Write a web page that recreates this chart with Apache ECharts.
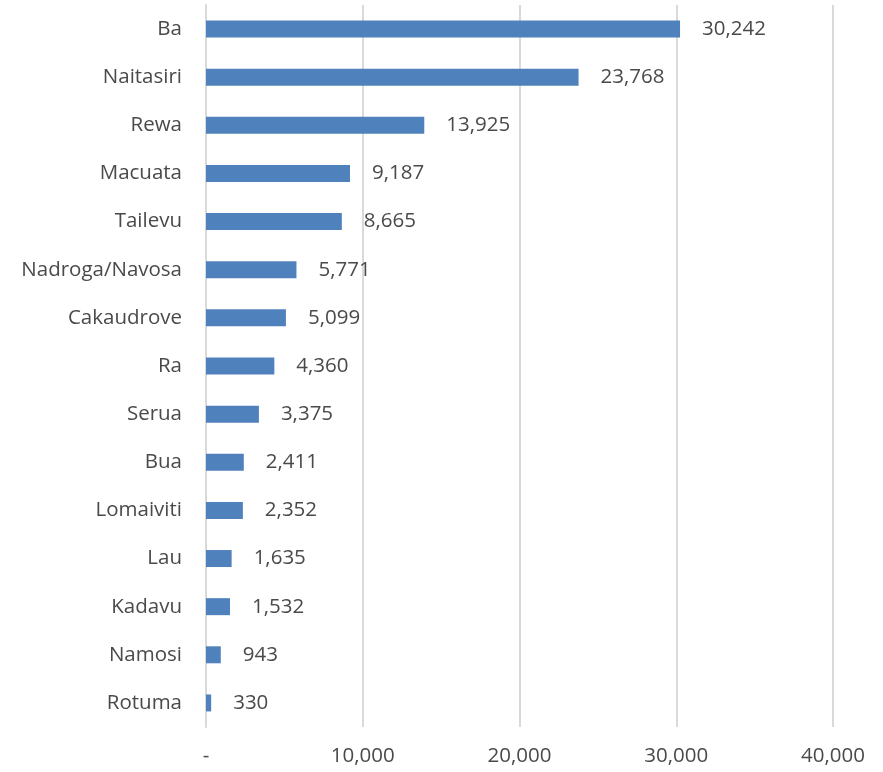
<!DOCTYPE html>
<html>
<head>
<meta charset="utf-8">
<script src="https://cdn.jsdelivr.net/npm/echarts@6/dist/echarts.min.js"></script>
<style>
  html, body { margin: 0; padding: 0; background: #ffffff; }
  #chart { width: 883px; height: 772px; }
</style>
</head>
<body>
<div id="chart"></div>
<script>
// Provinces, listed top to bottom
const provinces = ['Ba', 'Naitasiri', 'Rewa', 'Macuata', 'Tailevu', 'Nadroga/Navosa',
  'Cakaudrove', 'Ra', 'Serua', 'Bua', 'Lomaiviti', 'Lau', 'Kadavu', 'Namosi', 'Rotuma'];
const counts = [30242, 23768, 13925, 9187, 8665, 5771, 5099, 4360, 3375, 2411, 2352, 1635, 1532, 943, 330];
const xTicks = { min: 0, max: 40000, step: 10000 };

const fmt = v => v === 0 ? '-' : v.toLocaleString('en-US');
const textColor = '#4a4a4a';
const fontFamily = '"Open Sans", Lato, sans-serif';
const fontSize = 20.5;

const chart = echarts.init(document.getElementById('chart'));
chart.setOption({
  animation: false,
  grid: { left: 206, right: 50, top: 5, bottom: 45, containLabel: false },
  xAxis: {
    type: 'value',
    min: xTicks.min, max: xTicks.max, interval: xTicks.step,
    axisLine: { show: false },
    axisTick: { show: false },
    splitLine: { show: true, lineStyle: { color: '#d9d9d9', width: 2 } },
    axisLabel: { color: textColor, fontSize, fontFamily, margin: 19, formatter: fmt }
  },
  yAxis: {
    type: 'category',
    data: provinces,
    inverse: true,
    axisLine: { show: true, lineStyle: { color: '#d9d9d9', width: 2 } },
    axisTick: { show: false },
    axisLabel: { color: textColor, fontSize, fontFamily, margin: 24 }
  },
  series: [{
    type: 'bar',
    data: counts,
    barWidth: 17,
    itemStyle: { color: '#4f81bd' },
    label: {
      show: true, position: 'right', distance: 22,
      color: textColor, fontSize, fontFamily,
      formatter: p => fmt(p.value)
    }
  }]
});
</script>
</body>
</html>
